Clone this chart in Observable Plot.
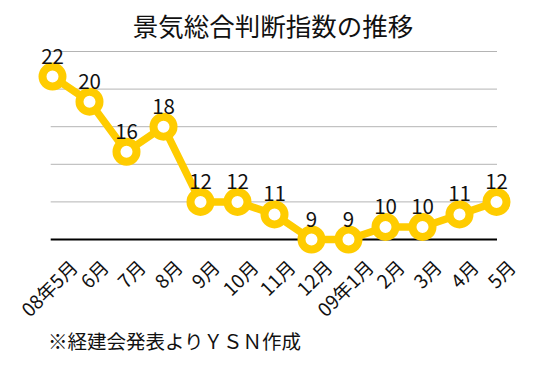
<!DOCTYPE html>
<html><head><meta charset="utf-8">
<script src="https://cdn.jsdelivr.net/npm/d3@7"></script>
<script src="https://cdn.jsdelivr.net/npm/@observablehq/plot@0.6"></script>
<style>
body{margin:0;background:#fff;font-family:"Noto Sans CJK JP",sans-serif;color:#111;}
#wrap{width:546px;height:365px;overflow:hidden;}
#title{height:44px;line-height:49px;text-align:center;font-size:25.5px;font-weight:400;white-space:nowrap;}
#chart{height:280px;}
#chart svg{display:block;overflow:visible;}
#caption{padding-left:48px;font-size:19.5px;line-height:33px;white-space:nowrap;}
</style>
</head><body>
<div id="wrap">
<div id="title">景気総合判断指数の推移</div>
<div id="chart"></div>
<div id="caption">※経建会発表よりＹＳＮ作成</div>
</div>
<script>
const months = ["08年5月","6月","7月","8月","9月","10月","11月","12月","09年1月","2月","3月","4月","5月"];
const values = [22,20,16,18,12,12,11,9,9,10,10,11,12];
const gridTicks = [12,15,18,21,24];
const baseValue = 9;
const yDomain = [9,24];

const data = months.map((m,i)=>({month:m, value:values[i]}));
const yellow = "#FFCC00";

const chart = Plot.plot({
  width:546, height:280,
  marginLeft:50.7, marginRight:49, marginTop:7, marginBottom:85,
  style:{fontFamily:'"Noto Sans CJK JP", sans-serif', background:"white", overflow:"visible", color:"#111"},
  x:{type:"point", domain:months, padding:0, label:null},
  y:{domain:yDomain, axis:null},
  marks:[
    Plot.ruleY(gridTicks,{stroke:"#b4b4b4", strokeWidth:1}),
    Plot.ruleY([baseValue],{stroke:"#000", strokeWidth:2}),
    Plot.line(data,{x:"month",y:"value",stroke:yellow,strokeWidth:7.5,strokeLinejoin:"round"}),
    Plot.dot(data,{x:"month",y:"value",r:10,fill:"white",stroke:yellow,strokeWidth:8}),
    Plot.text(data,{x:"month",y:"value",text:d=>String(d.value),dy:-13,lineAnchor:"bottom",fontSize:20.5,fill:"#111"}),
    Plot.axisX({label:null,tickSize:0,tickPadding:0,tickRotate:-45,textAnchor:"end",lineAnchor:"middle",fontSize:19,fill:"#111"})
  ]
});
document.getElementById("chart").append(chart);

// Excel-style placement of rotated month labels
const xs = chart.scale("x");
d3.select(chart).selectAll('g[aria-label="x-axis tick label"]').attr("transform", null);
d3.select(chart).selectAll('g[aria-label="x-axis tick label"] text').each(function(){
  const t = d3.select(this);
  const label = t.text();
  const L = this.getComputedTextLength();
  const x = xs.apply(label);
  t.attr("x", null).attr("y", null)
   .attr("text-anchor","end")
   .attr("dy","0.32em")
   .attr("transform", `translate(${x + 12.5 + 0.15*L},220.5) rotate(-45)`);
});
</script>
</body></html>
